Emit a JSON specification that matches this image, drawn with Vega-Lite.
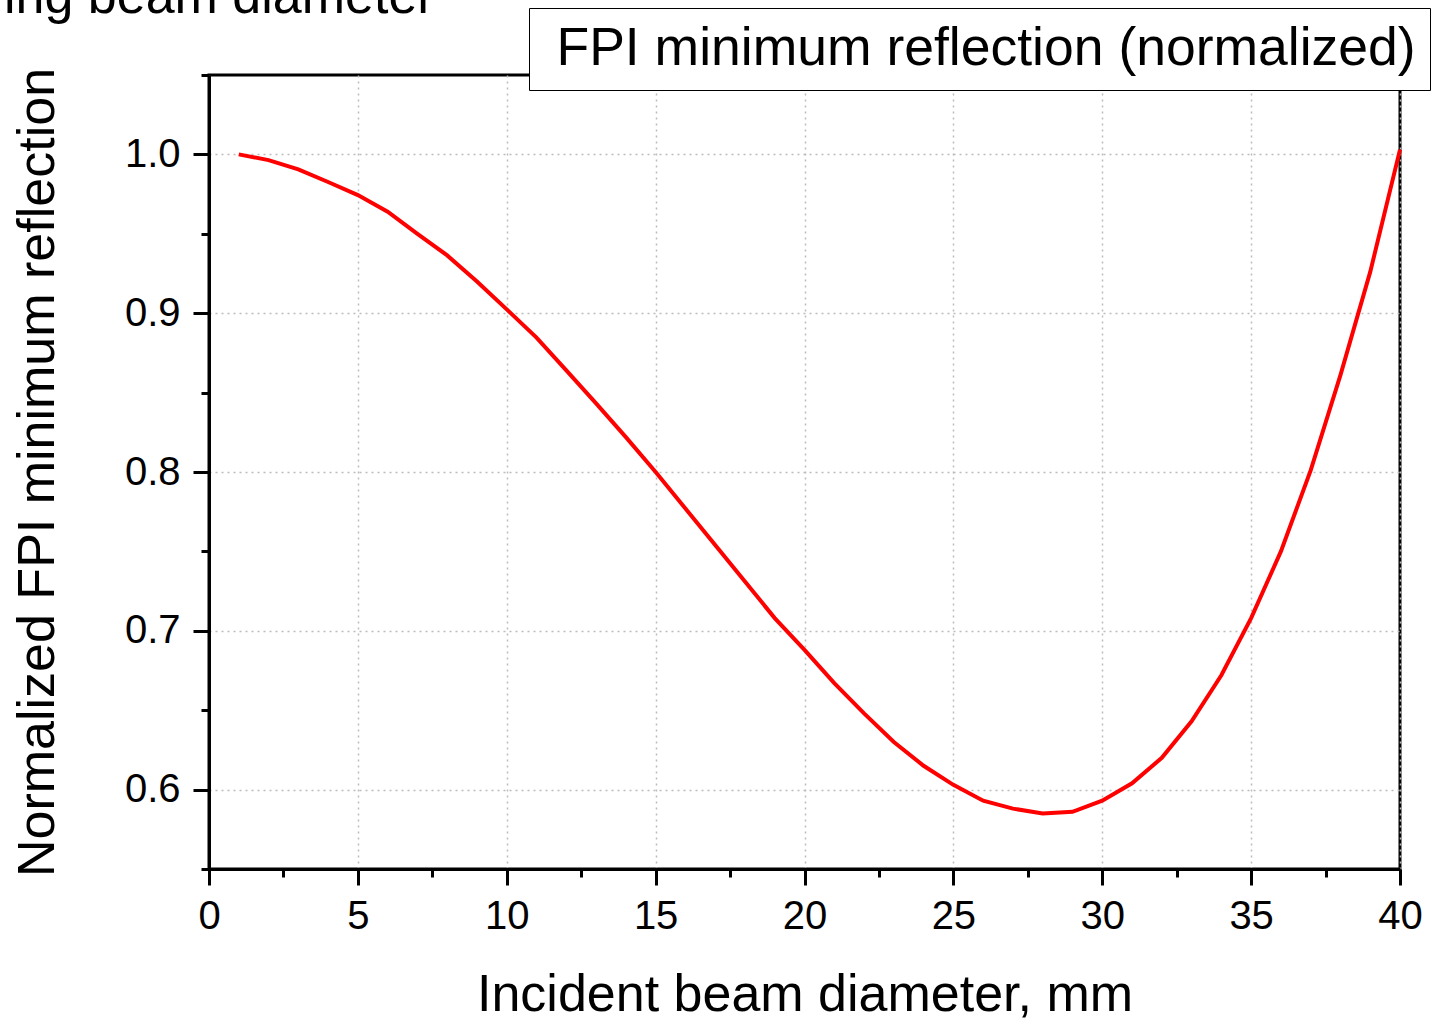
{
  "$schema": "https://vega.github.io/schema/vega-lite/v6.json",
  "width": 1191,
  "height": 794,
  "autosize": {"type": "none"},
  "padding": {"left": 209, "top": 75, "right": 33, "bottom": 151},
  "background": "white",
  "config": {
    "font": "Liberation Sans",
    "view": {"stroke": "black", "strokeWidth": 3}
  },
  "title": {
    "text": "ing beam diameter",
    "anchor": "start",
    "frame": "group",
    "fontSize": 52,
    "fontWeight": "normal",
    "font": "Liberation Sans",
    "color": "black",
    "baseline": "alphabetic",
    "offset": 0,
    "dy": 57,
    "dx": -205
  },
  "data": {
    "values": [
      {"d": 1, "r": 1.000, "series": "FPI minimum reflection (normalized)"},
      {"d": 2, "r": 0.9964, "series": "FPI minimum reflection (normalized)"},
      {"d": 3, "r": 0.9906, "series": "FPI minimum reflection (normalized)"},
      {"d": 4, "r": 0.9826, "series": "FPI minimum reflection (normalized)"},
      {"d": 5, "r": 0.9744, "series": "FPI minimum reflection (normalized)"},
      {"d": 6, "r": 0.9639, "series": "FPI minimum reflection (normalized)"},
      {"d": 7, "r": 0.950, "series": "FPI minimum reflection (normalized)"},
      {"d": 8, "r": 0.9364, "series": "FPI minimum reflection (normalized)"},
      {"d": 9, "r": 0.920, "series": "FPI minimum reflection (normalized)"},
      {"d": 10, "r": 0.9024, "series": "FPI minimum reflection (normalized)"},
      {"d": 11, "r": 0.8846, "series": "FPI minimum reflection (normalized)"},
      {"d": 12, "r": 0.864, "series": "FPI minimum reflection (normalized)"},
      {"d": 13, "r": 0.8432, "series": "FPI minimum reflection (normalized)"},
      {"d": 14, "r": 0.822, "series": "FPI minimum reflection (normalized)"},
      {"d": 15, "r": 0.800, "series": "FPI minimum reflection (normalized)"},
      {"d": 16, "r": 0.777, "series": "FPI minimum reflection (normalized)"},
      {"d": 17, "r": 0.754, "series": "FPI minimum reflection (normalized)"},
      {"d": 18, "r": 0.731, "series": "FPI minimum reflection (normalized)"},
      {"d": 19, "r": 0.708, "series": "FPI minimum reflection (normalized)"},
      {"d": 20, "r": 0.688, "series": "FPI minimum reflection (normalized)"},
      {"d": 21, "r": 0.667, "series": "FPI minimum reflection (normalized)"},
      {"d": 22, "r": 0.648, "series": "FPI minimum reflection (normalized)"},
      {"d": 23, "r": 0.630, "series": "FPI minimum reflection (normalized)"},
      {"d": 24, "r": 0.615, "series": "FPI minimum reflection (normalized)"},
      {"d": 25, "r": 0.603, "series": "FPI minimum reflection (normalized)"},
      {"d": 26, "r": 0.593, "series": "FPI minimum reflection (normalized)"},
      {"d": 27, "r": 0.588, "series": "FPI minimum reflection (normalized)"},
      {"d": 28, "r": 0.585, "series": "FPI minimum reflection (normalized)"},
      {"d": 29, "r": 0.586, "series": "FPI minimum reflection (normalized)"},
      {"d": 30, "r": 0.593, "series": "FPI minimum reflection (normalized)"},
      {"d": 31, "r": 0.604, "series": "FPI minimum reflection (normalized)"},
      {"d": 32, "r": 0.620, "series": "FPI minimum reflection (normalized)"},
      {"d": 33, "r": 0.643, "series": "FPI minimum reflection (normalized)"},
      {"d": 34, "r": 0.672, "series": "FPI minimum reflection (normalized)"},
      {"d": 35, "r": 0.708, "series": "FPI minimum reflection (normalized)"},
      {"d": 36, "r": 0.750, "series": "FPI minimum reflection (normalized)"},
      {"d": 37, "r": 0.801, "series": "FPI minimum reflection (normalized)"},
      {"d": 38, "r": 0.861, "series": "FPI minimum reflection (normalized)"},
      {"d": 39, "r": 0.926, "series": "FPI minimum reflection (normalized)"},
      {"d": 40, "r": 1.003, "series": "FPI minimum reflection (normalized)"}
    ]
  },
  "layer": [
    {
      "mark": {"type": "line", "strokeWidth": 4},
      "encoding": {
        "x": {
          "field": "d",
          "type": "quantitative",
          "scale": {"domain": [0, 40], "nice": false, "zero": false},
          "axis": {
            "orient": "bottom",
            "values": [0, 5, 10, 15, 20, 25, 30, 35, 40],
            "format": "d",
            "tickSize": 16,
            "tickWidth": 3,
            "tickColor": "black",
            "domainWidth": 3,
            "domainColor": "black",
            "labelFontSize": 40,
            "labelColor": "black",
            "labelPadding": 11,
            "labelFlush": false,
            "grid": true,
            "gridColor": "#bbbbbb",
            "gridDash": [2, 4],
            "gridWidth": 1.5,
            "title": "Incident beam diameter, mm",
            "titleFontSize": 52,
            "titleFontWeight": "normal",
            "titleColor": "black",
            "titlePadding": 33
          }
        },
        "y": {
          "field": "r",
          "type": "quantitative",
          "scale": {"domain": [0.55, 1.05], "nice": false, "zero": false},
          "axis": {
            "orient": "left",
            "values": [0.6, 0.7, 0.8, 0.9, 1.0],
            "format": ".1f",
            "tickSize": 16,
            "tickWidth": 3,
            "tickColor": "black",
            "domainWidth": 3,
            "domainColor": "black",
            "labelFontSize": 40,
            "labelColor": "black",
            "labelPadding": 13,
            "labelFlush": false,
            "grid": true,
            "gridColor": "#bbbbbb",
            "gridDash": [2, 4],
            "gridWidth": 1.5,
            "title": "Normalized FPI minimum reflection",
            "titleFontSize": 52,
            "titleFontWeight": "normal",
            "titleColor": "black",
            "titlePadding": 60
          }
        },
        "color": {
          "field": "series",
          "type": "nominal",
          "scale": {"range": ["#ff0000"]},
          "legend": {
            "orient": "none",
            "legendX": 320,
            "legendY": -67,
            "title": null,
            "fillColor": "white",
            "strokeColor": "black",
            "padding": 14,
            "labelFontSize": 53.5,
            "labelFont": "Liberation Sans",
            "labelColor": "black",
            "labelLimit": 0,
            "labelOffset": -40,
            "symbolOpacity": 0,
            "symbolSize": 1,
            "symbolType": "stroke"
          }
        }
      }
    },
    {
      "mark": {"type": "line", "opacity": 0},
      "encoding": {
        "x": {
          "field": "d",
          "type": "quantitative",
          "scale": {"domain": [0, 40], "nice": false, "zero": false},
          "axis": {
            "orient": "bottom",
            "values": [2.5, 7.5, 12.5, 17.5, 22.5, 27.5, 32.5, 37.5],
            "tickSize": 8,
            "tickWidth": 3,
            "tickColor": "black",
            "domain": false,
            "labels": false,
            "grid": false,
            "title": null
          }
        },
        "y": {
          "field": "r",
          "type": "quantitative",
          "scale": {"domain": [0.55, 1.05], "nice": false, "zero": false},
          "axis": {
            "orient": "left",
            "values": [0.55, 0.65, 0.75, 0.85, 0.95, 1.05],
            "tickSize": 8,
            "tickWidth": 3,
            "tickColor": "black",
            "domain": false,
            "labels": false,
            "grid": false,
            "title": null
          }
        }
      }
    }
  ],
  "resolve": {"axis": {"x": "independent", "y": "independent"}}
}
